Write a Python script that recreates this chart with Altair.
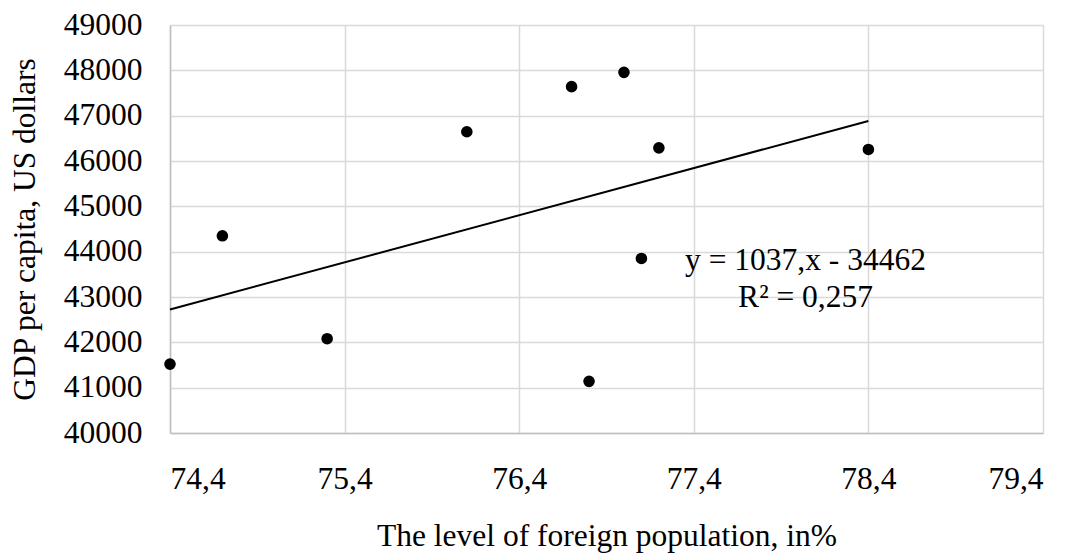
import altair as alt
import pandas as pd

# ---- data ----
foreign_level = [74.4, 74.7, 75.3, 76.1, 76.7, 76.8, 77.0, 77.1, 77.2, 78.4]
gdp_per_capita = [41520, 44350, 42080, 46645, 47640, 41140, 47955, 43850, 46290, 46255]
x_ticks = [74.4, 75.4, 76.4, 77.4, 78.4, 79.4]
y_ticks = [40000, 41000, 42000, 43000, 44000, 45000, 46000, 47000, 48000, 49000]
eq_lines = ["y = 1037,x - 34462", "R² = 0,257"]
eq_x = [78.04, 78.04]
eq_y = [43595, 42772]

FONT = "Liberation Serif"
FS = 31.5

pts = pd.DataFrame({"x": foreign_level, "y": gdp_per_capita})
ann = pd.DataFrame({"x": eq_x, "y": eq_y, "t": eq_lines})

xscale = alt.Scale(domain=[x_ticks[0], x_ticks[-1]], nice=False, zero=False)
yscale = alt.Scale(domain=[y_ticks[0], y_ticks[-1]], nice=False, zero=False)

xaxis = alt.Axis(
    values=x_ticks,
    labelExpr="replace(format(datum.value, '.1f'), '.', ',')",
    title="The level of foreign population, in%",
    labelPadding=30,
    titlePadding=26,
)
yaxis = alt.Axis(
    values=y_ticks,
    format="d",
    title="GDP per capita, US dollars",
    labelPadding=28,
    titlePadding=22,
)

base = alt.Chart(pts)

points = base.mark_circle(color="black", opacity=1, size=135).encode(
    x=alt.X("x:Q", scale=xscale, axis=xaxis),
    y=alt.Y("y:Q", scale=yscale, axis=yaxis),
)

trend = base.transform_regression(
    "x", "y", method="linear", extent=[74.4, 78.4]
).mark_line(color="black", strokeWidth=2).encode(
    x=alt.X("x:Q", scale=xscale),
    y=alt.Y("y:Q", scale=yscale),
)

text = alt.Chart(ann).mark_text(
    font=FONT, fontSize=FS, color="black", align="center", baseline="alphabetic"
).encode(
    x=alt.X("x:Q", scale=xscale),
    y=alt.Y("y:Q", scale=yscale),
    text="t:N",
)

chart = (
    alt.layer(trend, points, text)
    .properties(
        width=873,
        height=408,
        autosize=alt.AutoSizeParams(type="none"),
        padding={"left": 162, "top": 17, "right": 28, "bottom": 120},
    )
    .configure_view(stroke=None)
    .configure_axis(
        labelFont=FONT,
        titleFont=FONT,
        labelFontSize=FS,
        titleFontSize=FS,
        labelColor="black",
        titleColor="black",
        titleFontWeight="normal",
        grid=True,
        gridColor="#d9d9d9",
        gridWidth=1.5,
        domainColor="#bfbfbf",
        domainWidth=1.5,
        ticks=False,
    )
)

chart.save("out.html", embed_options={"renderer": "svg", "actions": False})
